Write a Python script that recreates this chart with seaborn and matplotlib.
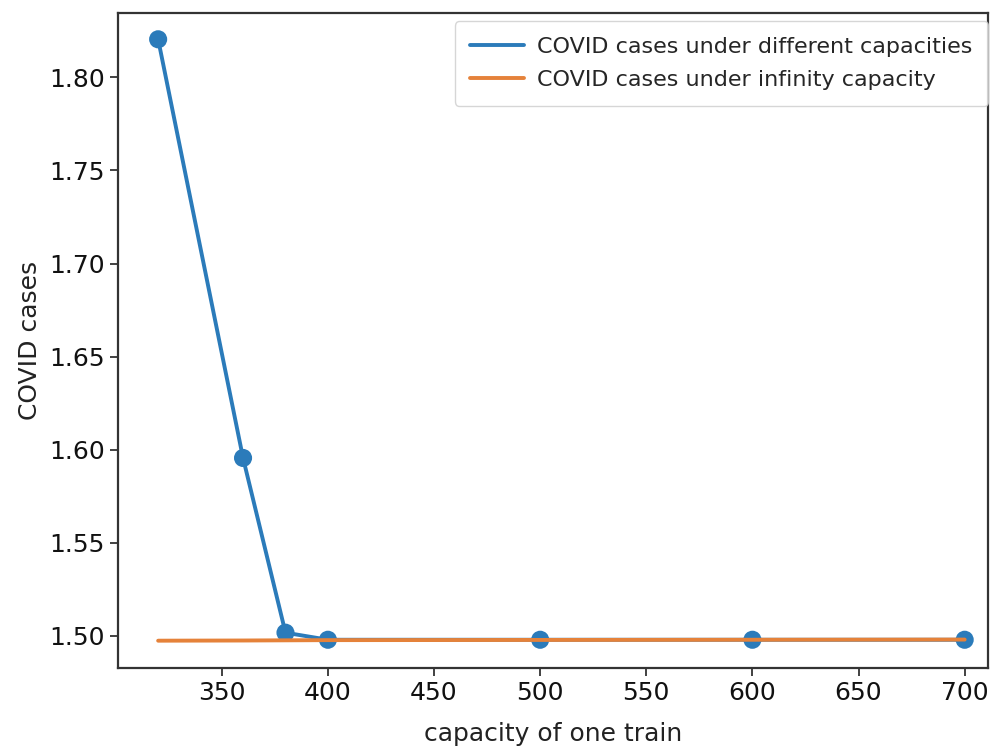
import numpy as np
import pandas as pd
import seaborn as sns
import matplotlib.pyplot as plt

# values
capacity = [320, 360, 380, 400, 500, 600, 700]
cases_capacity = [1.8205, 1.5955, 1.5016, 1.4978, 1.4978, 1.4978, 1.4978]
cases_infinity = [1.4973, 1.4974, 1.4975, 1.4976, 1.4977, 1.4978, 1.4979]

df = pd.DataFrame({
    "capacity": capacity,
    "different": cases_capacity,
    "infinity": cases_infinity,
})

sns.set_style("ticks")
plt.rcParams["font.family"] = ["DejaVu Sans"]

fig = plt.figure(figsize=(9.9, 7.46), dpi=100)
ax = fig.add_axes([0.119, 0.105, 0.879, 0.877])

sns.lineplot(data=df, x="capacity", y="different", ax=ax, color="#2b7bba",
             linewidth=2.8, label="COVID cases under different capacities")
sns.scatterplot(data=df, x="capacity", y="different", ax=ax, color="#2b7bba",
                s=170, edgecolor="none", zorder=3)
sns.lineplot(data=df, x="capacity", y="infinity", ax=ax, color="#e5823a",
             linewidth=2.8, label="COVID cases under infinity capacity", zorder=4)

ax.set_xlim(301, 711)
ax.set_ylim(1.4828, 1.8344)
ax.set_xticks([350, 400, 450, 500, 550, 600, 650, 700])
yt = [1.50, 1.55, 1.60, 1.65, 1.70, 1.75, 1.80]
ax.set_yticks(yt)
ax.set_yticklabels([f"{v:.2f}" for v in yt])
ax.tick_params(labelsize=18, length=6, width=1.3, colors="#333333", labelcolor="#111111")
for s in ax.spines.values():
    s.set_visible(True)
    s.set_linewidth(1.6)
    s.set_color("#333333")

ax.set_xlabel("capacity of one train", fontsize=18, color="#222222", labelpad=12)
ax.set_ylabel("COVID cases", fontsize=18, color="#222222", labelpad=5)
ax.legend(loc="upper right", bbox_to_anchor=(1.0, 0.988), borderaxespad=0,
          fontsize=16, frameon=True, fancybox=True,
          handlelength=2.4, handletextpad=0.6, borderpad=0.7, labelspacing=0.6)

fig.savefig("out.png", dpi=100)
